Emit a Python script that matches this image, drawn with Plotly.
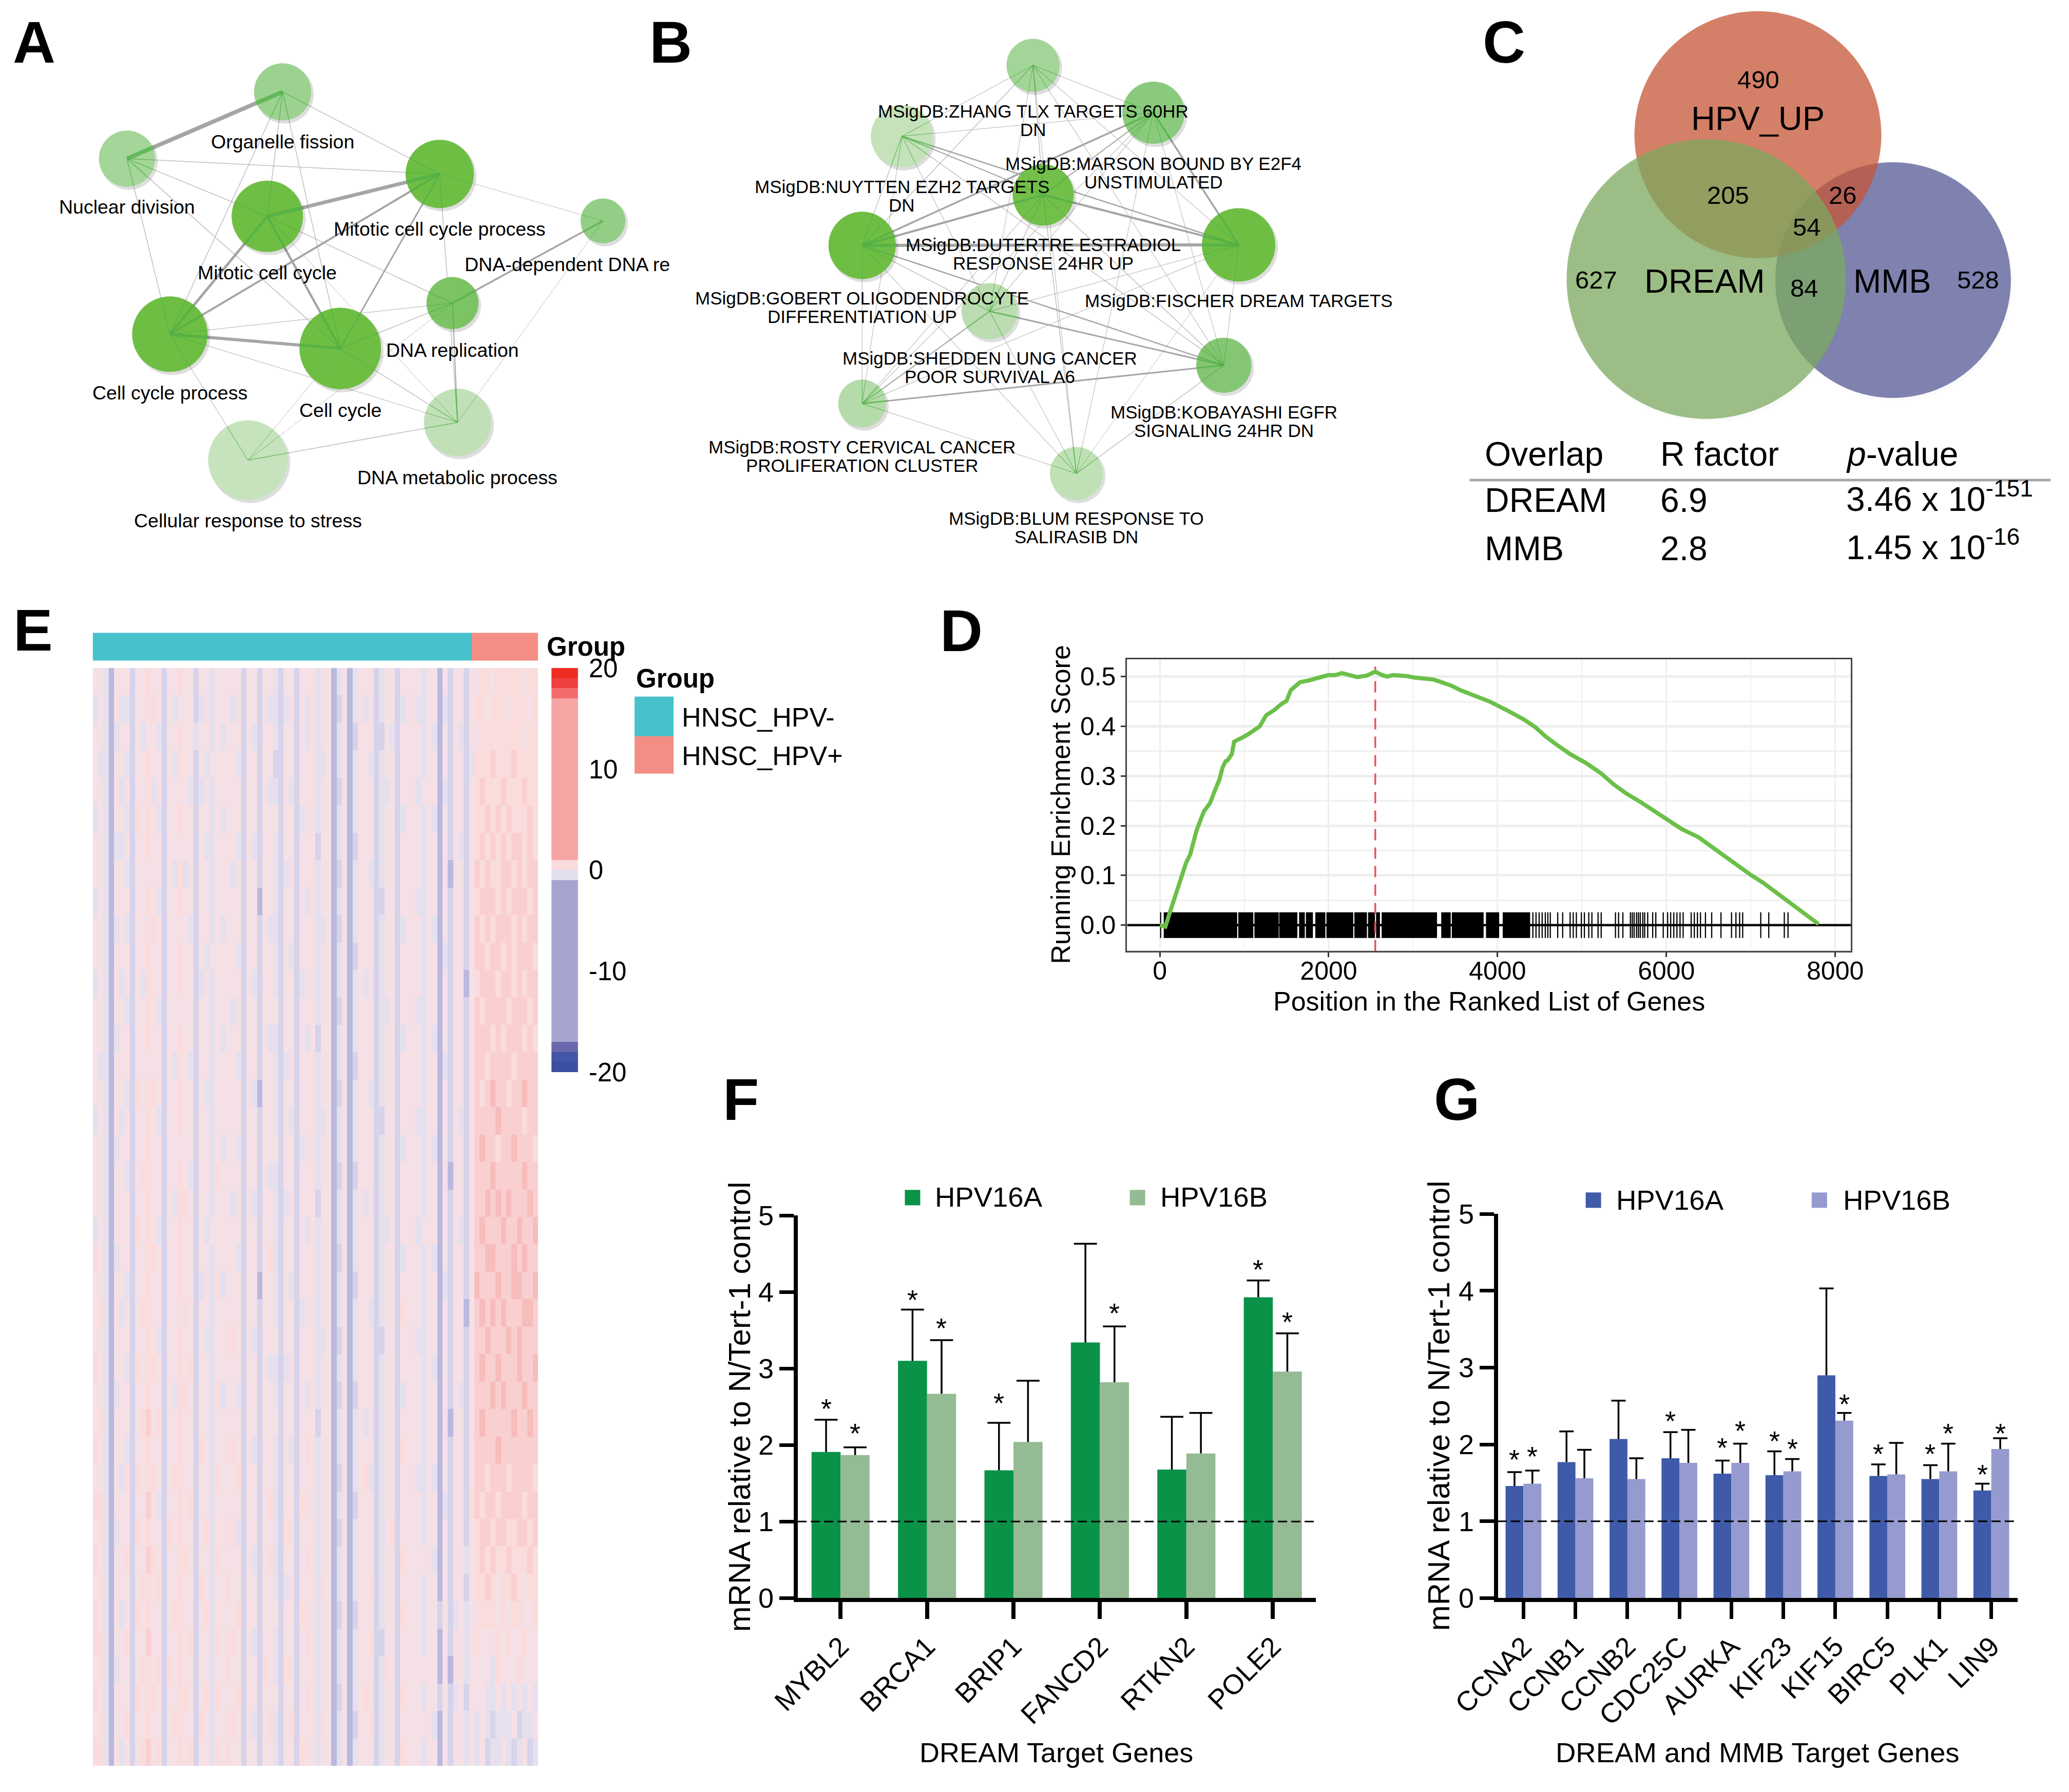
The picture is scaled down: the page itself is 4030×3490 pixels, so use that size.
import plotly.graph_objects as go

W, H = 4030, 3490
FONT = "Liberation Sans"
K = 0.9936  # calibration between panel read-offs and page pixels
ORG = {"A": (0, 0), "B": (1250, 0), "C": (2800, 0), "E": (0, 1150), "D": (1800, 1150), "F": (1380, 2080), "G": (2730, 2080)}

# ---------- Panel A network ----------
a_names = ["Organelle fission", "Nuclear division", "Mitotic cell cycle process", "Mitotic cell cycle",
           "DNA-dependent DNA re", "DNA replication", "Cell cycle process", "Cell cycle",
           "DNA metabolic process", "Cellular response to stress"]
a_x = [554, 249, 862, 524, 1182, 887, 333, 667, 897, 486]
a_y = [180, 311, 341, 424, 433, 594, 655, 683, 828, 902]
a_r = [56, 55, 67, 70, 44, 51, 74, 80, 66, 78]
a_col = ["#9bd28f", "#a3d698", "#6fbe44", "#6fbe44", "#93ce86", "#7cc364", "#6fbe44", "#6fbe44", "#c2e0b8", "#c6e3bd"]
a_lx = [554, 249, 862, 524, 1112, 887, 333, 667, 897, 486]
a_ly = [278, 406, 449, 534, 518, 686, 770, 804, 936, 1021]
a_edges = [(0,1,8),(1,2,1.5),(0,2,1.5),(0,3,1.5),(0,6,1.5),(0,7,1.5),(1,3,1.5),(1,6,1.5),(1,7,1.5),
           (3,2,7),(3,6,5),(3,7,4.5),(2,6,4),(2,7,3),(2,4,1),(2,8,1.5),(3,5,1.5),(5,4,3.5),(6,7,6),
           (6,5,1.2),(6,8,1.2),(6,9,1.2),(7,5,1.5),(7,8,1.5),(7,9,1),(5,8,2),(4,8,1),(9,8,1.5),(3,8,1),(9,5,1)]

# ---------- Panel B network ----------
b_lines = [["MSigDB:ZHANG TLX TARGETS 60HR", "DN"], ["MSigDB:MARSON BOUND BY E2F4", "UNSTIMULATED"],
           ["MSigDB:NUYTTEN EZH2 TARGETS", "DN"], ["MSigDB:DUTERTRE ESTRADIOL", "RESPONSE 24HR UP"],
           ["MSigDB:GOBERT OLIGODENDROCYTE", "DIFFERENTIATION UP"], ["MSigDB:FISCHER DREAM TARGETS"],
           ["MSigDB:SHEDDEN LUNG CANCER", "POOR SURVIVAL A6"], ["MSigDB:KOBAYASHI EGFR", "SIGNALING 24HR DN"],
           ["MSigDB:ROSTY CERVICAL CANCER", "PROLIFERATION CLUSTER"], ["MSigDB:BLUM RESPONSE TO", "SALIRASIB DN"]]
b_x = [2017, 2253, 1760, 2037, 1682, 2420, 1932, 2391, 1682, 2102]
b_y = [128, 221, 267, 382, 481, 480, 610, 716, 791, 928]
b_r = [52, 61, 61, 60, 66, 72, 55, 54, 47, 52]
b_col = ["#a3d598", "#8aca7c", "#c5e2bb", "#72bf4a", "#6fbe44", "#6fbe44", "#bddcb2", "#85c674", "#b5dbaa", "#bfe1b5"]
b_lx = [2017, 2253, 1760, 2037, 1682, 2420, 1932, 2391, 1682, 2102]
b_ly = [236, 339, 384, 498, 602, 589, 720, 826, 894, 1034]
b_edges = [(4,5,6),(3,4,4),(3,5,4),(1,4,3.5),(1,5,3.5),(2,5,2.5),(6,7,3),(8,7,3),(4,7,2.5),(2,3,2),
           (0,1,1.2),(0,2,1.2),(0,3,1.5),(0,4,1.5),(0,5,1.2),(0,6,1.2),(0,7,1.2),(0,9,1.2),(1,2,1.2),(1,3,2),
           (1,6,1.2),(1,7,1.2),(1,8,1.2),(1,9,1.2),(2,4,1.5),(2,6,1.2),(2,7,1.5),(2,8,1.2),(3,6,1.5),(3,7,1.5),
           (3,8,1.2),(3,9,1.5),(4,6,1.5),(4,8,1.2),(4,9,1.2),(5,6,1.2),(5,7,1.2),(5,8,1.2),(5,9,1),(6,8,2),
           (6,9,1.2),(7,9,1.5),(8,9,1.2)]

# ---------- Panel C Venn ----------
venn_x = [3693, 3428, 3327]
venn_y = [549, 264, 547]
venn_r = [231, 242, 274]
venn_col = ["rgba(86,90,150,0.75)", "rgba(199,85,54,0.75)", "rgba(124,170,95,0.75)"]
venn_big = [("HPV_UP", 3428, 232), ("DREAM", 3324, 551), ("MMB", 3692, 551)]
venn_num = [("490", 3429, 156), ("205", 3370, 382), ("26", 3595, 382), ("54", 3524, 445),
            ("627", 3111, 549), ("84", 3519, 565), ("528", 3860, 549)]
tab_rows = [("Overlap", "R factor", "<i>p</i>-value", 890, 890),
            ("DREAM", "6.9", "3.46 x 10<sup>-151</sup>", 980, 973),
            ("MMB", "2.8", "1.45 x 10<sup>-16</sup>", 1075, 1068)]

# ---------- Panel D GSEA ----------
es_x = [0,66,118,191,265,310,360,434,522,596,650,706,745,780,800,853,880,926,985,1037,1110,1184,1258,1350,1441,1500,1552,1662,1760,1846,1920,
        1993,2080,2155,2250,2338,2450,2552,2620,2691,2760,2838,2930,3022,3130,3243,3350,3463,3570,3684,3790,3905,4126,4309,4450,4567,4700,4862,5040,
        5229,5370,5524,5700,5891,6040,6185,6380,6553,6700,6847,7000,7141,7300,7435,7620,7803]
es_y = [0,-.003,.025,.064,.106,.125,.142,.19,.229,.246,.27,.293,.318,.33,.331,.344,.369,.372,.378,.383,.392,.40,.422,.432,.445,.451,.473,.489,.492,.496,.499,
        .503,.503,.507,.503,.499,.502,.51,.504,.50,.503,.503,.501,.498,.496,.494,.488,.481,.472,.464,.458,.45,.431,.414,.398,.38,.363,.344,.327,
        .305,.284,.265,.247,.226,.211,.193,.177,.156,.136,.12,.101,.086,.066,.05,.027,.002]
rug_start = [51,934,1125,1419,1654,1735,1846,1978,2309,2471,2566,2632,3338,3463,3868,4066]
rug_end = [912,1103,1404,1625,1713,1809,1956,2287,2449,2544,2603,3279,3441,3831,4015,4382]
rug_single = [10,4419,4456,4493,4529,4566,4596,4625,4713,4772,4860,4897,4934,4993,5029,5081,5118,5191,5228,5397,5434,5485,
              5574,5596,5618,5647,5669,5691,5721,5743,5779,5838,5875,5963,6015,6051,6088,6125,6162,6199,6294,6331,6368,
              6404,6463,6537,6647,6772,6824,6868,6904,7118,7213,7397,7441]
peak_x = 2552

# ---------- Panel E heatmap (cell averages, ordinal level 1=blue ... 7=salmon) ----------
heat_rows = [
"443144424454 424454424434 444424424432 442444344134 134442344244 443441424424 455455555455",
"343143324445 424344423434 443424424332 342434344124 134342344234 433441324424 554555455545",
"443134424344 324454434434 344424324432 442434344134 124442243244 443431424324 455555555455",
"433144324454 424354424344 444324424422 442444334134 134432344244 443441424423 555655565555",
"443143424453 424444323434 444424424332 432444344124 134442334244 434441324424 565556555655",
"343144325454 324454424434 344424424442 442344344134 134442344234 443431424424 556565655565",
"443133424454 424444424334 444324324432 442444244134 124442344244 443441424324 565656566565",
"443144324444 424353424434 443424424432 342444344124 134432344244 443441414424 656556656566",
"343144424454 324454424434 444424414432 442434344134 134442244244 433441424424 566656566656",
"443134324445 424444324434 344424424332 442444334124 134442344234 443431424424 656566656566",
"443144424454 424454424344 444324424432 432444344134 124442344244 443441324424 665665656665",
"343143424354 424454423434 444424324432 442344344134 134342344244 443441424414 566656656566",
"443144324454 324444424434 443424424442 442444344124 134442334244 433441424424 656666566656",
"443134424454 424454424434 344424424332 442434244134 134442344234 443431424424 666565666565",
"433144424444 424354324434 444324424432 342444344134 124442344244 443441324424 665666656666",
"443144325455 424454424334 444424314432 442444344124 134432344244 443441424424 656766566766",
"343143424454 324454424434 444424424432 432444334134 134442244244 433441424324 666676666566",
"443134424454 424444424434 344324424442 442344344134 134442344234 443431424424 676656676665",
"443144324554 424454324435 444424424332 442444344124 124442344244 443441414424 666766666766",
"443144424454 424355424434 443424324432 342444244134 134342344244 443441424424 667676766676",
"343144425454 324454424344 444424424432 442434344134 134442334244 434441424324 676667667667",
"543134424455 424454424434 444324424532 442444344124 134442344234 443431424424 667766676766",
"443144324454 424454423435 344424414432 432444344134 124442344244 443441324424 766676677667",
"453143424554 424445424434 444424424432 442344344134 134432344254 443441424414 676767666776",
"443144424454 324454424334 445424324442 442444334124 134442244244 433441424424 667666767666",
"543144325455 424454524434 444424424332 342444344134 134442344244 443431424424 676676667667",
"443134424454 424355424435 344324424432 442434344124 124442344234 443441424324 666767666766",
"453144424564 524454424434 444424424442 442444244134 134342344244 443441414424 676666676676",
"543144324454 424454425434 445424324432 432454344134 134442344254 443441424424 666676666666",
"443143525455 424554424435 444524424432 442444344124 134532344244 433431424424 665666566665",
"553144424464 324454524434 444424424532 442544344134 124442344244 443441324425 656656666566",
"453134425454 425454424534 445324424432 542444344124 134442345244 443441424424 566566556656",
"543144524465 424455424435 444424324532 442454344134 134442344254 444431424434 565655655565",
"453144424554 524454425434 454424424432 342444354134 134452344244 443441424424 556545565455",
"543143425454 424554424534 444524424442 442544344124 124442344254 443442423434 455545455445",
"553144524464 424454524435 445424324432 442454344134 134452244244 443441424434 544454544544",
"453134424554 525454424434 454424425432 542444344134 134442354244 444441414434 444354445444",
"543144425455 424455424535 444524424442 442454344124 134542344254 443442423424 443343434343",
"453144524454 424554425434 445424324532 452444354134 124452344244 444431424434 343233342334",
"553143424564 524454524435 454424424432 442544344134 134442344254 443441424434 342334323423",
]
heat_levels = [[int(c) for c in row.replace(" ", "")] for row in heat_rows]
heat_scale = [[0, "#b9b8de"], [1/6, "#d6d3ea"], [2/6, "#e6e0ee"], [3/6, "#f5e0e6"], [4/6, "#fbdcdc"], [5/6, "#f9cfd0"], [1, "#f7bcbc"]]
cbar_edges = [-20, -19, -18, -17, -1, 0, 1, 17, 18, 19, 20]
cbar_vals = [0, 1, 2, 3, 4, 5, 6, 7, 8, 9]
cbar_cols = ["#3b4fa0", "#4355a6", "#6a68ac", "#a7a5d0", "#e0e0ee", "#fbdcdc", "#f6a5a5", "#f36c6c", "#ef4040", "#ee2c22"]
group_names = ["HNSC_HPV-", "HNSC_HPV+"]
group_cols = ["#47c2cb", "#f48e84"]

# ---------- Panel F ----------
f_genes = ["MYBL2", "BRCA1", "BRIP1", "FANCD2", "RTKN2", "POLE2"]
f_a = [1.91, 3.10, 1.67, 3.34, 1.68, 3.93]
f_b = [1.87, 2.67, 2.04, 2.82, 1.89, 2.96]
f_a_top = [2.33, 3.77, 2.29, 4.63, 2.37, 4.15]
f_b_top = [1.97, 3.37, 2.84, 3.55, 2.42, 3.46]
f_star_a = {0: 2.56, 1: 3.98, 2: 2.63, 5: 4.38}
f_star_b = {0: 2.24, 1: 3.61, 3: 3.81, 5: 3.69}

# ---------- Panel G ----------
g_genes = ["CCNA2", "CCNB1", "CCNB2", "CDC25C", "AURKA", "KIF23", "KIF15", "BIRC5", "PLK1", "LIN9"]
g_a = [1.46, 1.77, 2.07, 1.82, 1.62, 1.60, 2.90, 1.59, 1.55, 1.40]
g_b = [1.49, 1.56, 1.55, 1.76, 1.76, 1.65, 2.31, 1.61, 1.65, 1.94]
g_a_top = [1.64, 2.17, 2.57, 2.16, 1.79, 1.91, 4.03, 1.74, 1.73, 1.49]
g_b_top = [1.66, 1.93, 1.82, 2.19, 2.01, 1.81, 2.41, 2.02, 2.01, 2.08]
g_star_a = {0: 1.89, 3: 2.39, 4: 2.04, 5: 2.13, 7: 1.96, 8: 1.96, 9: 1.69}
g_star_b = {0: 1.93, 4: 2.26, 5: 2.03, 6: 2.61, 8: 2.23, 9: 2.23}

fig = go.Figure()
annos = []


def tx(x, p):
    return ORG[p][0] + (x - ORG[p][0]) * K


def ty(y, p):
    return ORG[p][1] + (y - ORG[p][1]) * K


def ann(p, px, py, text, size, bold=False, anchor="center", color="black", angle=0):
    annos.append(dict(x=tx(px, p) / W, y=1 - ty(py, p) / H, xref="paper", yref="paper", text=f"<b>{text}</b>" if bold else text,
                      showarrow=False, xanchor=anchor, yanchor="middle", textangle=angle,
                      font=dict(family=FONT, size=size, color=color)))


def network(p, xs0, ys0, rs0, cols, edges):
    xs = [tx(v, p) for v in xs0]
    ys = [ty(v, p) for v in ys0]
    rs = [r * K for r in rs0]
    for i, j, w in edges:
        col = "rgba(160,160,160,0.95)" if w >= 2 else "rgba(170,170,170,0.75)"
        fig.add_trace(go.Scatter(x=[xs[i], xs[j]], y=[ys[i], ys[j]], mode="lines", line=dict(color=col, width=w),
                                 hoverinfo="skip", showlegend=False))
    fig.add_trace(go.Scatter(x=[v + 4 for v in xs], y=[v + 5 for v in ys], mode="markers",
                             marker=dict(size=[2 * r + 2 for r in rs], color="rgba(0,0,0,0.13)", line_width=0, opacity=1),
                             hoverinfo="skip", showlegend=False))
    fig.add_trace(go.Scatter(x=xs, y=ys, mode="markers",
                             marker=dict(size=[2 * r for r in rs], color=cols, line_width=0, opacity=1),
                             hoverinfo="skip", showlegend=False))
    # portion of each edge that lies inside its end nodes appears green
    for i, j, w in edges:
        ddx, ddy = xs[j] - xs[i], ys[j] - ys[i]
        d = (ddx * ddx + ddy * ddy) ** 0.5
        for a, sgn in ((i, 1), (j, -1)):
            ex = xs[a] + sgn * ddx / d * rs[a]
            ey = ys[a] + sgn * ddy / d * rs[a]
            fig.add_trace(go.Scatter(x=[xs[a], ex], y=[ys[a], ey], mode="lines",
                                     line=dict(color="rgba(80,175,70,0.75)", width=w), hoverinfo="skip", showlegend=False))


network("A", a_x, a_y, a_r, a_col, a_edges)
network("B", b_x, b_y, b_r, b_col, b_edges)

for t, x, y in zip(a_names, a_lx, a_ly):
    ann("A", x, y, t, 37.5)
for lines, x, y in zip(b_lines, b_lx, b_ly):
    n = len(lines)
    for k, t in enumerate(lines):
        ann("B", x, y + (k - (n - 1) / 2) * 36, t, 35)

# Venn
vx = [tx(v, "C") for v in venn_x]
vy = [ty(v, "C") for v in venn_y]
vr = [r * K for r in venn_r]
fig.add_trace(go.Scatter(x=[v + 3 for v in vx], y=[v + 5 for v in vy], mode="markers",
                         marker=dict(size=[2 * r + 2 for r in vr], color="rgba(0,0,0,0.015)", line_width=0, opacity=1),
                         hoverinfo="skip", showlegend=False))
fig.add_trace(go.Scatter(x=vx, y=vy, mode="markers",
                         marker=dict(size=[2 * r for r in vr], color=venn_col, line_width=0, opacity=1),
                         hoverinfo="skip", showlegend=False))
for t, x, y in venn_big:
    ann("C", x, y, t, 65)
for t, x, y in venn_num:
    ann("C", x, y, t, 49)
fig.add_trace(go.Scatter(x=[tx(2863, "C"), tx(4002, "C")], y=[ty(941, "C")] * 2, mode="lines", line=dict(color="#a6a6a6", width=5),
                         hoverinfo="skip", showlegend=False))
for c1, c2, c3, y, y3 in tab_rows:
    ann("C", 2891, y, c1, 66, anchor="left")
    ann("C", 3235, y, c2, 66, anchor="left")
    ann("C", 3599, y3, c3, 66, anchor="left")

# Heatmap E (canvas pixels)
fig.add_trace(go.Heatmap(z=[[0, 1]], x=[tx(182, "E"), tx(925, "E"), tx(1055, "E")], y=[ty(1233, "E"), ty(1287, "E")], showscale=False, zmin=0, zmax=1,
                         colorscale=[[0, group_cols[0]], [1, group_cols[1]]], hoverinfo="skip"))
nrow, ncol = len(heat_levels), len(heat_levels[0])
hx0, hx1, hy0, hy1 = tx(182, "E"), tx(1055, "E"), ty(1302, "E"), ty(3454, "E")
fig.add_trace(go.Heatmap(z=heat_levels, x0=hx0 + (hx1 - hx0) / ncol / 2, dx=(hx1 - hx0) / ncol,
                         y0=hy0 + (hy1 - hy0) / nrow / 2, dy=(hy1 - hy0) / nrow,
                         zmin=1, zmax=7, colorscale=heat_scale, showscale=False, hoverinfo="skip"))
ann("E", 1070, 1260, "Group", 51, bold=True, anchor="left")
ann("E", 1245, 1323, "Group", 51, bold=True, anchor="left")
fig.add_trace(go.Heatmap(z=[[0], [1]], x=[tx(1244, "E"), tx(1320, "E")], y=[ty(1358, "E"), ty(1435, "E"), ty(1509, "E")],
                         showscale=False, zmin=0, zmax=1,
                         colorscale=[[0, group_cols[0]], [1, group_cols[1]]], hoverinfo="skip"))
ann("E", 1335, 1399, group_names[0], 52, anchor="left")
ann("E", 1335, 1474, group_names[1], 52, anchor="left")

# colour bar
fig.add_trace(go.Heatmap(z=[[v] for v in cbar_vals], x=[0, 1], y=cbar_edges, xaxis="x3", yaxis="y3", showscale=False,
                         zmin=0, zmax=9, hoverinfo="skip",
                         colorscale=[[i / 9, c] for i, c in enumerate(cbar_cols)]))

# GSEA
rug_x = [(s + e) / 2 for s, e in zip(rug_start, rug_end)] + rug_single
rug_w = [e - s + 9 for s, e in zip(rug_start, rug_end)] + [14] * len(rug_single)
fig.add_trace(go.Bar(x=rug_x, y=[0.0516] * len(rug_x), base=-0.0258, width=rug_w, marker=dict(color="black", line_width=0),
                     xaxis="x2", yaxis="y2", hoverinfo="skip", showlegend=False))
fig.add_trace(go.Scatter(x=[-387, 8187], y=[0, 0], mode="lines", line=dict(color="black", width=4.5),
                         xaxis="x2", yaxis="y2", hoverinfo="skip", showlegend=False))
fig.add_trace(go.Scatter(x=[peak_x, peak_x], y=[-0.0524, 0.52], mode="lines",
                         line=dict(color="#e8525a", width=3.5, dash="22px,14px"),
                         xaxis="x2", yaxis="y2", hoverinfo="skip", showlegend=False))
fig.add_trace(go.Scatter(x=es_x, y=es_y, mode="lines", line=dict(color="#6cc04a", width=8),
                         xaxis="x2", yaxis="y2", hoverinfo="skip", showlegend=False))
ann("D", 2908, 1955, "Position in the Ranked List of Genes", 52)
ann("D", 2068, 1570, "Running Enrichment Score", 52, angle=-90)


def barpanel(ax, genes, a, b, a_top, b_top, ca, cb, width, star_a, star_b, err_half):
    xa, ya = f"x{ax}", f"y{ax}"
    xs = list(range(len(genes)))
    for vals, tops, col, off in ((a, a_top, ca, -width), (b, b_top, cb, 0)):
        fig.add_trace(go.Bar(x=xs, y=vals, width=width, offset=off, marker=dict(color=col, line_width=0), xaxis=xa, yaxis=ya,
                             error_y=dict(type="data", symmetric=False, array=[t - v for t, v in zip(tops, vals)],
                                          arrayminus=[0] * len(vals), color="black", thickness=3.5, width=0),
                             hoverinfo="skip", showlegend=False))
        # upper caps only
        fig.add_trace(go.Scatter(x=[i + off + width / 2 for i in xs], y=tops, mode="markers", xaxis=xa, yaxis=ya,
                                 marker=dict(symbol="line-ew", size=2 * err_half, color="black", line=dict(color="black", width=3.5)),
                                 hoverinfo="skip", showlegend=False))
    fig.add_trace(go.Scatter(x=[-0.5, len(genes) - 0.5], y=[1, 1], mode="lines", line=dict(color="black", width=3, dash="18px,8px"),
                             xaxis=xa, yaxis=ya, hoverinfo="skip", showlegend=False))
    for stars, off in ((star_a, -width / 2), (star_b, width / 2)):
        for i, v in stars.items():
            annos.append(dict(x=i + off, y=v, xref=xa, yref=ya, text="*", showarrow=False, yshift=-12,
                              font=dict(family=FONT, size=54, color="black")))


barpanel(4, f_genes, f_a, f_b, f_a_top, f_b_top, "#0a9249", "#94bb94", 0.336, f_star_a, f_star_b, 16)
barpanel(5, g_genes, g_a, g_b, g_a_top, g_b_top, "#3e5aa8", "#959bce", 0.344, g_star_a, g_star_b, 10)


def legend_sq(p, x, y, col, s=30):
    fig.add_trace(go.Scatter(x=[tx(x, p)], y=[ty(y, p)], mode="markers", marker=dict(symbol="square", size=s, color=col, line_width=0),
                             hoverinfo="skip", showlegend=False))


legend_sq("F", 1780, 2334, "#0a9249")
legend_sq("F", 2221, 2334, "#94bb94")
legend_sq("G", 3106, 2339, "#3e5aa8")
legend_sq("G", 3549, 2339, "#959bce")
ann("F", 1822, 2333, "HPV16A", 54.5, anchor="left")
ann("F", 2264, 2333, "HPV16B", 54.5, anchor="left")
ann("G", 3149, 2339, "HPV16A", 54.5, anchor="left")
ann("G", 3594, 2339, "HPV16B", 54.5, anchor="left")
ann("F", 1441, 2744, "mRNA relative to N/Tert-1 control", 60, angle=-90)
ann("G", 2803, 2742, "mRNA relative to N/Tert-1 control", 60, angle=-90)
ann("F", 2062, 3422, "DREAM Target Genes", 54)
ann("G", 3428, 3422, "DREAM and MMB Target Genes", 54.5)

for p, t, x, y in (("A", "A", 67, 83), ("B", "B", 1307, 83), ("C", "C", 2930, 83), ("D", "D", 1873, 1228),
                   ("E", "E", 65, 1227), ("F", "F", 1443, 2141), ("G", "G", 2838, 2141)):
    ann(p, x, y, t, 115, bold=True)


def dx(a, b, p):
    return [tx(a, p) / W, tx(b, p) / W]


def dy(a, b, p):
    return [1 - ty(b, p) / H, 1 - ty(a, p) / H]


hidden = dict(visible=False, showgrid=False, zeroline=False, fixedrange=True)
tick_font = dict(family=FONT, size=54, color="black")
gs_font = dict(family=FONT, size=50, color="black")

fig.update_layout(
    width=W, height=H, margin=dict(l=0, r=0, t=0, b=0, pad=0, autoexpand=False), paper_bgcolor="white", plot_bgcolor="rgba(0,0,0,0)",
    barmode="overlay", showlegend=False, annotations=annos, font=dict(family=FONT),
    xaxis=dict(domain=[0, 1], range=[0, W], **hidden),
    yaxis=dict(domain=[0, 1], range=[H, 0], **hidden),
    xaxis2=dict(domain=dx(2198, 3617, "D"), range=[-387, 8187], anchor="y2", tickvals=[0, 2000, 4000, 6000, 8000], tickfont=gs_font,
                ticks="outside", ticklen=9, tickwidth=3, tickcolor="#333", showline=True, mirror=True, linecolor="#444", linewidth=3,
                ticklabelstandoff=-16,
                showgrid=True, gridcolor="#eeeeee", gridwidth=3, zeroline=False,
                minor=dict(dtick=1000, showgrid=True, gridcolor="#f0f0f0", gridwidth=2, ticks="")),
    yaxis2=dict(domain=dy(1285, 1857, "D"), range=[-0.0524, 0.5347], anchor="x2", tickvals=[0, .1, .2, .3, .4, .5],
                ticktext=["0.0", "0.1", "0.2", "0.3", "0.4", "0.5"], tickfont=gs_font,
                ticks="outside", ticklen=9, tickwidth=3, tickcolor="#333", showline=True, mirror=True, linecolor="#444", linewidth=3,
                showgrid=True, gridcolor="#eeeeee", gridwidth=4.5, zeroline=False,
                minor=dict(tickvals=[-.05, .05, .15, .25, .35, .45], showgrid=True, gridcolor="#f0f0f0", gridwidth=2.5, ticks="")),
    xaxis3=dict(domain=dx(1081, 1133, "E"), range=[0, 1], anchor="y3", **hidden),
    yaxis3=dict(domain=dy(1302, 2094, "E"), range=[-20, 20], anchor="x3", side="right", tickvals=[-20, -10, 0, 10, 20],
                ticktext=["-20", "-10", "0", "10", "20"],
                tickfont=dict(family=FONT, size=51, color="black"), ticks="", ticklabelstandoff=20,
                showgrid=False, zeroline=False, showline=False),
    xaxis4=dict(domain=dx(1555, 2571, "F"), range=[-0.4956, 5.5], anchor="y4", tickvals=list(range(6)), ticktext=f_genes, tickangle=-45,
                tickfont=tick_font, ticks="outside", ticklen=33, tickwidth=8, tickcolor="black",
                showline=True, linecolor="black", linewidth=8, showgrid=False, zeroline=False),
    yaxis4=dict(domain=dy(2369, 3119, "F"), range=[0, 5], anchor="x4", tickvals=[0, 1, 2, 3, 4, 5], tickfont=tick_font,
                ticks="outside", ticklen=28, tickwidth=7, tickcolor="black",
                showline=True, linecolor="black", linewidth=8, showgrid=False, zeroline=False),
    xaxis5=dict(domain=dx(2919, 3938, "G"), range=[-0.49, 9.51], anchor="y5", tickvals=list(range(10)), ticktext=g_genes, tickangle=-45,
                tickfont=tick_font, ticks="outside", ticklen=33, tickwidth=7, tickcolor="black",
                showline=True, linecolor="black", linewidth=8, showgrid=False, zeroline=False),
    yaxis5=dict(domain=dy(2366, 3119, "G"), range=[0, 5], anchor="x5", tickvals=[0, 1, 2, 3, 4, 5], tickfont=tick_font,
                ticks="outside", ticklen=28, tickwidth=7, tickcolor="black",
                showline=True, linecolor="black", linewidth=8, showgrid=False, zeroline=False),
)

fig.write_html("out.html", config={"displayModeBar": False},
               post_script="document.body.style.margin='0';document.body.style.overflow='hidden';")
